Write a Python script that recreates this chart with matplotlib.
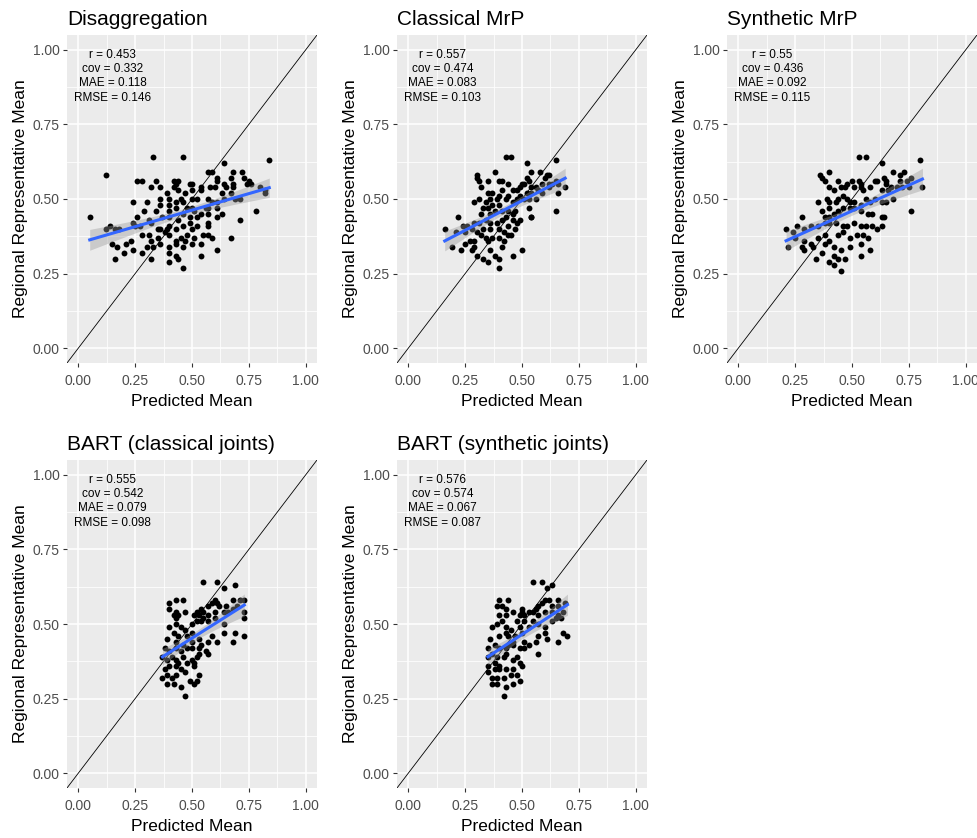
import numpy as np
import matplotlib
matplotlib.use("Agg")
import matplotlib.pyplot as plt
from matplotlib.ticker import MultipleLocator

plt.rcParams['font.family'] = ['Liberation Sans', 'DejaVu Sans']

# ---- datos ----
titles = ["Disaggregation", "Classical MrP", "Synthetic MrP",
          "BART (classical joints)", "BART (synthetic joints)"]

stats = [("0.453", "0.332", "0.118", "0.146"),
         ("0.557", "0.474", "0.083", "0.103"),
         ("0.55", "0.436", "0.092", "0.115"),
         ("0.555", "0.542", "0.079", "0.098"),
         ("0.576", "0.574", "0.067", "0.087")]

disagg_x = [.33, .46, .84, .64, .12, .57, .59, .68, .72, .61,
            .26, .28, .34, .42, .44, .49, .50, .61, .67, .68,
            .73, .75, .74, .32, .36, .42, .43, .54, .58, .64,
            .65, .68, .76, .80, .82, .39, .44, .47, .50, .54,
            .60, .63, .67, .82, .24, .30, .36, .40, .43, .45,
            .46, .50, .52, .57, .59, .61, .64, .69, .71, .36,
            .40, .48, .50, .57, .61, .05, .29, .34, .40, .43,
            .46, .49, .52, .56, .57, .61, .63, .71, .78, .26,
            .31, .37, .40, .44, .51, .54, .12, .14, .18, .24,
            .27, .32, .35, .36, .40, .43, .46, .49, .52, .57,
            .57, .16, .25, .39, .50, .28, .31, .35, .38, .40,
            .43, .45, .48, .51, .55, .57, .59, .67, .23, .15,
            .32, .47, .17, .20, .24, .28, .30, .33, .36, .40,
            .43, .46, .50, .54, .61, .16, .32, .43, .44, .54,
            .40, .40, .46, .21]
disagg_y = [.64, .64, .63, .62, .58, .59, .59, .59, .59, .57,
            .56, .56, .56, .56, .56, .55, .55, .56, .57, .55,
            .57, .56, .55, .54, .54, .54, .55, .54, .54, .55,
            .54, .54, .55, .54, .53, .52, .53, .52, .53, .53,
            .54, .52, .52, .52, .49, .49, .50, .50, .49, .50,
            .49, .50, .50, .50, .49, .49, .50, .50, .50, .48,
            .48, .47, .47, .47, .47, .44, .46, .46, .46, .47,
            .45, .44, .44, .47, .45, .44, .45, .43, .46, .44,
            .43, .44, .44, .43, .46, .45, .40, .41, .40, .42,
            .41, .42, .40, .40, .41, .40, .41, .42, .41, .41,
            .42, .40, .41, .40, .40, .38, .38, .37, .39, .38,
            .36, .37, .38, .37, .38, .38, .37, .37, .36, .35,
            .36, .36, .34, .32, .33, .32, .34, .34, .35, .34,
            .35, .34, .35, .35, .33, .30, .30, .31, .30, .31,
            .32, .29, .27, .35]

cmrp_x = [.43, .45, .52, .65, .30, .30, .31, .38, .35, .40,
          .41, .44, .52, .53, .54, .58, .61, .62, .60, .62,
          .65, .49, .50, .51, .54, .56, .59, .63, .66, .69,
          .66, .32, .35, .37, .41, .46, .48, .40, .44, .49,
          .52, .54, .57, .59, .62, .29, .31, .34, .36, .37,
          .39, .40, .43, .46, .48, .51, .53, .56, .33, .35,
          .32, .36, .38, .41, .44, .47, .43, .46, .53, .54,
          .54, .65, .22, .24, .26, .29, .31, .34, .36, .39,
          .41, .46, .49, .48, .44, .16, .21, .25, .28, .30,
          .33, .36, .40, .42, .44, .47, .19, .23, .25, .27,
          .29, .32, .34, .35, .37, .40, .42, .45, .41, .28,
          .30, .36, .38, .33, .35, .40, .46, .50, .40, .29]
cmrp_y = [.64, .64, .62, .63, .58, .57, .56, .59, .56, .56,
          .56, .55, .57, .56, .59, .59, .58, .58, .57, .55,
          .56, .54, .55, .55, .54, .54, .55, .55, .55, .54,
          .52, .54, .52, .52, .53, .53, .53, .51, .51, .51,
          .52, .52, .53, .52, .54, .49, .50, .49, .50, .48,
          .50, .48, .50, .49, .50, .50, .50, .50, .47, .47,
          .45, .45, .46, .46, .46, .46, .44, .45, .47, .44,
          .44, .46, .44, .41, .41, .42, .42, .43, .42, .42,
          .43, .43, .43, .42, .41, .40, .39, .39, .40, .39,
          .40, .40, .40, .39, .38, .40, .34, .33, .35, .36,
          .36, .38, .37, .36, .37, .37, .36, .38, .34, .33,
          .31, .33, .31, .30, .29, .30, .31, .33, .27, .34]

smrp_x = [.53, .56, .63, .80, .36, .40, .37, .38, .44, .48,
          .50, .53, .54, .60, .61, .64, .65, .68, .71, .73,
          .71, .74, .76, .65, .67, .40, .42, .45, .47, .51,
          .54, .55, .58, .63, .66, .70, .72, .75, .81, .35,
          .39, .40, .43, .44, .46, .48, .49, .51, .54, .56,
          .58, .60, .63, .65, .68, .76, .28, .37, .40, .42,
          .44, .46, .49, .51, .54, .57, .59, .63, .64, .38,
          .40, .21, .24, .26, .29, .32, .35, .38, .40, .43,
          .46, .48, .51, .54, .56, .59, .22, .25, .28, .29,
          .32, .35, .38, .40, .44, .46, .49, .52, .55, .57,
          .61, .63, .29, .33, .38, .37, .42, .45, .49, .54,
          .58, .42, .44, .47, .54, .34, .42, .45, .40]
smrp_y = [.64, .64, .62, .63, .58, .59, .57, .56, .56, .55,
          .56, .56, .55, .56, .56, .57, .56, .59, .58, .59,
          .56, .56, .57, .55, .54, .54, .53, .54, .54, .54,
          .54, .53, .54, .53, .53, .54, .54, .54, .54, .49,
          .50, .49, .49, .50, .51, .50, .49, .49, .48, .50,
          .49, .50, .49, .49, .50, .46, .44, .46, .47, .45,
          .46, .47, .47, .47, .46, .45, .45, .44, .44, .44,
          .44, .40, .39, .41, .40, .41, .41, .42, .42, .42,
          .41, .41, .42, .41, .41, .41, .34, .37, .34, .36,
          .35, .37, .38, .36, .38, .39, .37, .38, .38, .37,
          .40, .41, .33, .34, .35, .32, .34, .33, .34, .35,
          .33, .31, .30, .30, .31, .30, .28, .26, .29]

bart_c_x = [.55, .61, .69, .64, .40, .43, .46, .40, .43, .47,
            .54, .57, .59, .60, .61, .62, .65, .68, .71, .73,
            .70, .42, .44, .43, .51, .52, .53, .55, .57, .60,
            .64, .66, .68, .73, .73, .40, .43, .45, .47, .50,
            .52, .54, .55, .57, .60, .64, .69, .73, .64, .61,
            .39, .42, .44, .48, .50, .43, .46, .50, .53, .54,
            .57, .59, .68, .38, .40, .43, .45, .48, .50, .53,
            .56, .57, .53, .37, .39, .41, .43, .46, .50, .51,
            .48, .44, .52, .38, .40, .43, .45, .47, .51, .53,
            .39, .43, .41, .39, .42, .45, .49, .51, .52, .47,
            .37]
bart_c_y = [.64, .64, .63, .62, .57, .58, .58, .55, .54, .54,
            .55, .56, .57, .58, .57, .56, .56, .58, .58, .58,
            .56, .53, .53, .52, .53, .54, .53, .54, .53, .54,
            .54, .54, .55, .54, .52, .49, .50, .49, .48, .50,
            .51, .51, .52, .51, .52, .50, .47, .46, .47, .44,
            .45, .47, .46, .46, .47, .44, .43, .44, .45, .43,
            .44, .46, .44, .42, .41, .42, .41, .42, .42, .42,
            .41, .40, .40, .39, .38, .39, .38, .39, .38, .37,
            .37, .37, .39, .35, .36, .36, .35, .34, .36, .33,
            .33, .33, .32, .30, .30, .29, .31, .30, .31, .26,
            .32]

bart_s_x = [.55, .59, .63, .61, .40, .44, .39, .41, .43, .46,
            .50, .50, .56, .57, .59, .60, .62, .63, .66, .66,
            .68, .69, .40, .43, .49, .51, .53, .55, .57, .60,
            .63, .66, .67, .37, .39, .41, .43, .45, .48, .49,
            .51, .53, .55, .57, .60, .63, .65, .36, .40, .43,
            .44, .46, .47, .50, .51, .53, .56, .57, .61, .66,
            .68, .70, .35, .38, .40, .43, .44, .46, .49, .51,
            .57, .60, .35, .37, .39, .42, .43, .46, .48, .49,
            .50, .38, .40, .35, .38, .40, .43, .46, .48, .37,
            .39, .42, .45, .37, .39, .43, .46, .49, .42, .35]
bart_s_y = [.64, .64, .63, .62, .58, .58, .56, .56, .55, .54,
            .55, .54, .55, .56, .57, .58, .58, .56, .58, .56,
            .54, .57, .53, .53, .53, .53, .54, .54, .53, .54,
            .54, .53, .52, .49, .50, .51, .49, .48, .51, .49,
            .51, .49, .51, .50, .49, .51, .52, .45, .46, .47,
            .46, .44, .46, .47, .44, .43, .44, .46, .45, .44,
            .47, .46, .42, .43, .42, .42, .43, .43, .42, .42,
            .40, .47, .39, .40, .39, .39, .40, .38, .39, .37,
            .36, .37, .36, .34, .35, .35, .35, .35, .33, .32,
            .32, .32, .33, .30, .30, .29, .30, .31, .26, .36]

xs = [disagg_x, cmrp_x, smrp_x, bart_c_x, bart_s_x]
ys = [disagg_y, cmrp_y, smrp_y, bart_c_y, bart_s_y]

# ---- figura ----
W, H = 978, 838
fig = plt.figure(figsize=(W / 100, H / 100), dpi=100)

bg = '#EBEBEB'
txt_col = '#4D4D4D'
tick_col = '#333333'

for i in range(5):
    row, col = divmod(i, 3)
    left = 67 + 330 * col
    top = 35 + 425 * row
    pw, ph = 250, 328
    ax = fig.add_axes([left / W, 1 - (top + ph) / H, pw / W, ph / H])
    ax.set_facecolor(bg)
    for s in ax.spines.values():
        s.set_visible(False)
    ax.set_xlim(-0.05, 1.05)
    ax.set_ylim(-0.05, 1.05)
    ax.xaxis.set_major_locator(MultipleLocator(0.25))
    ax.yaxis.set_major_locator(MultipleLocator(0.25))
    ax.xaxis.set_minor_locator(MultipleLocator(0.125))
    ax.yaxis.set_minor_locator(MultipleLocator(0.125))
    ax.grid(which='major', color='white', linewidth=1.1)
    ax.grid(which='minor', color='white', linewidth=0.55)
    ax.set_axisbelow(True)
    ax.tick_params(which='major', length=3.2, width=0.8, color=tick_col,
                   labelcolor=txt_col, labelsize=10)
    ax.tick_params(axis='x', which='major', pad=5)
    ax.tick_params(axis='y', which='major', pad=2)
    ax.tick_params(which='minor', length=0)
    ax.xaxis.set_major_formatter(lambda v, p: f"{v:.2f}")
    ax.yaxis.set_major_formatter(lambda v, p: f"{v:.2f}")

    x = np.array(xs[i])
    y = np.array(ys[i])

    # linea identidad
    ax.plot([-0.1, 1.1], [-0.1, 1.1], color='black', linewidth=0.6, zorder=2)

    ax.scatter(x, y, s=18, color='black', linewidths=0, zorder=3)

    # regresion lineal con intervalo de confianza del 95%
    n = len(x)
    b1, b0 = np.polyfit(x, y, 1)
    xx = np.linspace(x.min(), x.max(), 80)
    yy = b0 + b1 * xx
    resid = y - (b0 + b1 * x)
    s_err = np.sqrt(np.sum(resid ** 2) / (n - 2))
    sxx = np.sum((x - x.mean()) ** 2)
    se = s_err * np.sqrt(1 / n + (xx - x.mean()) ** 2 / sxx)
    ax.fill_between(xx, yy - 1.98 * se, yy + 1.98 * se, color='#999999',
                    alpha=0.4, linewidth=0, zorder=4)
    ax.plot(xx, yy, color='#3366FF', linewidth=2.2, zorder=5)

    r, cv, mae, rmse = stats[i]
    ax.text(0.15, 0.912, f"r = {r}\ncov = {cv}\nMAE = {mae}\nRMSE = {rmse}",
            ha='center', va='center', fontsize=8.5, linespacing=1.25,
            color='black', zorder=6)

    ax.set_title(titles[i], loc='left', fontsize=15, pad=7, color='black')
    ax.set_xlabel('Predicted Mean', fontsize=12.5, color='black', labelpad=4)
    ax.set_ylabel('Regional Representative Mean', fontsize=12.5,
                  color='black', labelpad=3)

fig.savefig('out.png', dpi=100, facecolor='white')
